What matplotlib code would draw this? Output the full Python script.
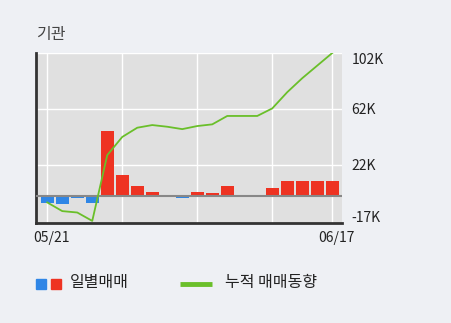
import numpy as np
import matplotlib.pyplot as plt
from matplotlib.patches import Rectangle
from matplotlib.lines import Line2D
from matplotlib.transforms import ScaledTranslation

plt.rcParams['font.family'] = ['Noto Sans CJK KR', 'DejaVu Sans']

daily = [-5, -6, -1.5, -5, 46, 14.8, 6.7, 2.4, 0, -1.5, 2.4, 1.7, 6.7, 0, 0, 5.2, 10.2, 10.2, 10.2, 10.2]
cumul = [-4.8, -11, -12, -18, 29, 42, 48.6, 50.5, 49.3, 47.6, 49.8, 51, 57, 57, 57, 62.4, 74, 84, 93, 102]
xlabels = ['05/21', '06/17']
yticks = [-17, 22, 62, 102]
ylabels = ['-17K', '22K', '62K', '102K']

bg = '#eef0f4'
fig = plt.figure(figsize=(4.51, 3.23), dpi=100, facecolor=bg)
ax = fig.add_axes([36/451, 1-223/323, 306/451, 170/323])
ax.set_facecolor('#e0e0e0')

x = np.arange(len(daily))
colors = ['#ee3322' if v > 0 else '#2f86e6' for v in daily]
ax.bar(x, daily, width=0.86, color=colors, zorder=3)
ax.plot(x, cumul, color='#6abf2a', lw=1.3, zorder=4)
ax.axhline(0, color='#888888', lw=1.5, zorder=3)

ax.set_xlim(-0.75, 19.65)
ax.set_ylim(-19.5, 102)
for xv in [0, 5, 10, 15, 19]:
    ax.axvline(xv, color='white', lw=1, zorder=1)
for yv in [22, 62, 102]:
    ax.axhline(yv, color='white', lw=1, zorder=1)

ax.yaxis.tick_right()
ax.set_yticks(yticks)
ax.set_yticklabels(ylabels, fontsize=10, color='#222222', ha='left')
ax.set_xticks([0, len(daily) - 1])
ax.set_xticklabels(xlabels, fontsize=10, color='#222222')
ax.tick_params(axis='x', length=0, pad=6)
ax.tick_params(axis='y', length=0, pad=7)

# nudge labels like the original
dpi_tr = fig.dpi_scale_trans
ylab_shift = {'102K': -6, '-17K': 3}
for lab in ax.get_yticklabels():
    dy = ylab_shift.get(lab.get_text(), 0)
    lab.set_transform(lab.get_transform() + ScaledTranslation(0, dy/100, dpi_tr))
for lab in ax.get_xticklabels():
    lab.set_transform(lab.get_transform() + ScaledTranslation(4/100, 0, dpi_tr))

for s in ['top', 'right']:
    ax.spines[s].set_visible(False)
ax.spines['left'].set_color('#333333')
ax.spines['left'].set_linewidth(2)
ax.spines['bottom'].set_color('#333333')
ax.spines['bottom'].set_linewidth(2)

fig.text(36/451, 1-35/323, '기관', fontsize=11.5, color='#444444', va='center')

# legend
fig.patches.append(Rectangle((36/451, 1-289/323), 10/451, 10/323, color='#2f86e6', transform=fig.transFigure))
fig.patches.append(Rectangle((51/451, 1-289/323), 10/451, 10/323, color='#ee3322', transform=fig.transFigure))
fig.text(70/451, 1-283/323, '일별매매', fontsize=11.5, color='#222222', va='center')
fig.lines.append(Line2D([180/451, 212/451], [1-283.5/323, 1-283.5/323], color='#6abf2a', lw=3.5,
                        solid_capstyle='butt', transform=fig.transFigure))
fig.text(225/451, 1-283/323, '누적 매매동향', fontsize=11.5, color='#222222', va='center')

fig.savefig('out.png', dpi=100, facecolor=bg)
